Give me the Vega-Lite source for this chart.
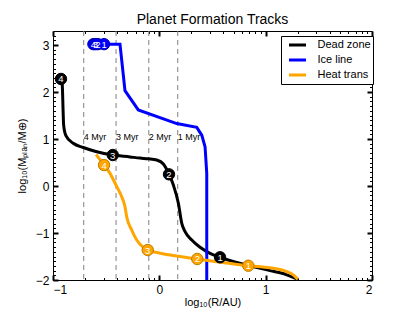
{
  "$schema": "https://vega.github.io/schema/vega-lite/v6.json",
  "width": 319,
  "height": 249,
  "autosize": {"type": "none"},
  "padding": {"left": 53, "top": 31, "right": 43, "bottom": 32},
  "background": "white",
  "title": {"text": "Planet Formation Tracks", "fontSize": 14, "fontWeight": "normal", "font": "Liberation Sans", "color": "black", "offset": 3},
  "config": {
    "font": "Liberation Sans",
    "view": {"stroke": "black", "strokeWidth": 1},
    "axis": {"labelColor": "black", "titleColor": "black", "grid": false, "domain": false, "labelFont": "Liberation Sans", "titleFont": "Liberation Sans"}
  },
  "datasets": {
    "tracks": [
      {"series": "Dead zone", "i": 1, "x": -0.925, "y": 2.28},
      {"series": "Dead zone", "i": 2, "x": -0.913, "y": 2.15},
      {"series": "Dead zone", "i": 3, "x": -0.905, "y": 1.6},
      {"series": "Dead zone", "i": 4, "x": -0.9, "y": 1.3},
      {"series": "Dead zone", "i": 5, "x": -0.88, "y": 1.08},
      {"series": "Dead zone", "i": 6, "x": -0.81, "y": 0.91},
      {"series": "Dead zone", "i": 7, "x": -0.715, "y": 0.82},
      {"series": "Dead zone", "i": 8, "x": -0.589, "y": 0.73},
      {"series": "Dead zone", "i": 9, "x": -0.438, "y": 0.66},
      {"series": "Dead zone", "i": 10, "x": -0.276, "y": 0.62},
      {"series": "Dead zone", "i": 11, "x": -0.182, "y": 0.595},
      {"series": "Dead zone", "i": 12, "x": -0.103, "y": 0.58},
      {"series": "Dead zone", "i": 13, "x": -0.024, "y": 0.553},
      {"series": "Dead zone", "i": 14, "x": 0.038, "y": 0.468},
      {"series": "Dead zone", "i": 15, "x": 0.091, "y": 0.249},
      {"series": "Dead zone", "i": 16, "x": 0.132, "y": 0.021},
      {"series": "Dead zone", "i": 17, "x": 0.179, "y": -0.368},
      {"series": "Dead zone", "i": 18, "x": 0.211, "y": -0.794},
      {"series": "Dead zone", "i": 19, "x": 0.242, "y": -0.972},
      {"series": "Dead zone", "i": 20, "x": 0.305, "y": -1.149},
      {"series": "Dead zone", "i": 21, "x": 0.383, "y": -1.304},
      {"series": "Dead zone", "i": 22, "x": 0.477, "y": -1.432},
      {"series": "Dead zone", "i": 23, "x": 0.571, "y": -1.517},
      {"series": "Dead zone", "i": 24, "x": 0.822, "y": -1.68},
      {"series": "Dead zone", "i": 25, "x": 1.041, "y": -1.8},
      {"series": "Dead zone", "i": 26, "x": 1.198, "y": -1.89},
      {"series": "Dead zone", "i": 27, "x": 1.302, "y": -1.985},
      {"series": "Ice line", "i": 1, "x": -0.62, "y": 3.02},
      {"series": "Ice line", "i": 2, "x": -0.37, "y": 3.02},
      {"series": "Ice line", "i": 3, "x": -0.323, "y": 2.03},
      {"series": "Ice line", "i": 4, "x": -0.198, "y": 1.62},
      {"series": "Ice line", "i": 5, "x": 0.164, "y": 1.33},
      {"series": "Ice line", "i": 6, "x": 0.352, "y": 1.249},
      {"series": "Ice line", "i": 7, "x": 0.399, "y": 1.085},
      {"series": "Ice line", "i": 8, "x": 0.43, "y": 0.836},
      {"series": "Ice line", "i": 9, "x": 0.446, "y": 0.27},
      {"series": "Ice line", "i": 10, "x": 0.446, "y": -2.0},
      {"series": "Heat trans", "i": 1, "x": -0.595, "y": 0.67},
      {"series": "Heat trans", "i": 2, "x": -0.52, "y": 0.447},
      {"series": "Heat trans", "i": 3, "x": -0.464, "y": 0.27},
      {"series": "Heat trans", "i": 4, "x": -0.4, "y": -0.014},
      {"series": "Heat trans", "i": 5, "x": -0.354, "y": -0.227},
      {"series": "Heat trans", "i": 6, "x": -0.323, "y": -0.44},
      {"series": "Heat trans", "i": 7, "x": -0.307, "y": -0.653},
      {"series": "Heat trans", "i": 8, "x": -0.26, "y": -0.936},
      {"series": "Heat trans", "i": 9, "x": -0.213, "y": -1.149},
      {"series": "Heat trans", "i": 10, "x": -0.15, "y": -1.305},
      {"series": "Heat trans", "i": 11, "x": -0.109, "y": -1.362},
      {"series": "Heat trans", "i": 12, "x": 0.007, "y": -1.43},
      {"series": "Heat trans", "i": 13, "x": 0.195, "y": -1.5},
      {"series": "Heat trans", "i": 14, "x": 0.357, "y": -1.553},
      {"series": "Heat trans", "i": 15, "x": 0.54, "y": -1.61},
      {"series": "Heat trans", "i": 16, "x": 0.837, "y": -1.696},
      {"series": "Heat trans", "i": 17, "x": 1.04, "y": -1.74},
      {"series": "Heat trans", "i": 18, "x": 1.198, "y": -1.82},
      {"series": "Heat trans", "i": 19, "x": 1.26, "y": -1.89},
      {"series": "Heat trans", "i": 20, "x": 1.302, "y": -1.985}
    ],
    "markers": [
      {"series": "Dead zone", "n": "4", "x": -0.925, "y": 2.28},
      {"series": "Dead zone", "n": "3", "x": -0.438, "y": 0.66},
      {"series": "Dead zone", "n": "2", "x": 0.091, "y": 0.249},
      {"series": "Dead zone", "n": "1", "x": 0.571, "y": -1.517},
      {"series": "Ice line", "n": "4", "x": -0.62, "y": 3.02},
      {"series": "Ice line", "n": "3", "x": -0.6, "y": 3.02},
      {"series": "Ice line", "n": "2", "x": -0.578, "y": 3.02},
      {"series": "Ice line", "n": "1", "x": -0.52, "y": 3.02},
      {"series": "Heat trans", "n": "4", "x": -0.52, "y": 0.447},
      {"series": "Heat trans", "n": "3", "x": -0.109, "y": -1.362},
      {"series": "Heat trans", "n": "2", "x": 0.357, "y": -1.553},
      {"series": "Heat trans", "n": "1", "x": 0.837, "y": -1.696}
    ],
    "myr": [
      {"label": "4 Myr", "x": -0.711, "y": 1.04},
      {"label": "3 Myr", "x": -0.407, "y": 1.04},
      {"label": "2 Myr", "x": -0.099, "y": 1.04},
      {"label": "1 Myr", "x": 0.173, "y": 1.04}
    ]
  },
  "resolve": {"axis": {"x": "independent", "y": "independent"}},
  "layer": [
    {
      "data": {"name": "myr"},
      "mark": {"type": "rule", "color": "#808080", "strokeDash": [5, 4], "strokeWidth": 1},
      "encoding": {
        "x": {"field": "x", "type": "quantitative", "scale": {"domain": [-1, 2], "nice": false, "zero": false},
          "axis": {"orient": "bottom", "values": [-1, 0, 1, 2], "ticks": false, "labelPadding": 4, "labelFontSize": 12, "title": "log₁₀(R/AU)", "titleFontSize": 11, "titleFontWeight": "normal", "titlePadding": 1, "labelOverlap": false}}
      }
    },
    {
      "data": {"name": "myr"},
      "mark": {"type": "text", "fontSize": 9, "align": "left", "baseline": "middle", "dx": 0, "color": "black"},
      "encoding": {
        "x": {"field": "x", "type": "quantitative", "scale": {"domain": [-1, 2], "nice": false, "zero": false},
          "axis": {"orient": "bottom", "labels": false, "title": null, "ticks": true, "tickColor": "black",
            "values": [-1, -0.699, -0.5229, -0.3979, -0.301, -0.2218, -0.1549, -0.0969, -0.0458, 0, 0.301, 0.4771, 0.6021, 0.699, 0.7782, 0.8451, 0.9031, 0.9542, 1, 1.301, 1.4771, 1.6021, 1.699, 1.7782, 1.8451, 1.9031, 1.9542, 2],
            "tickSize": {"condition": {"test": "abs(datum.value - round(datum.value)) < 0.001", "value": -5}, "value": -2.5},
            "tickWidth": {"condition": {"test": "abs(datum.value - round(datum.value)) < 0.001", "value": 2}, "value": 1}}},
        "y": {"field": "y", "type": "quantitative", "scale": {"domain": [-2, 3.3], "nice": false, "zero": false}, "axis": null},
        "text": {"field": "label"}
      }
    },
    {
      "data": {"name": "tracks"},
      "transform": [{"filter": "datum.series === 'Dead zone'"}],
      "mark": {"type": "line", "strokeWidth": 3, "interpolate": "monotone"},
      "encoding": {
        "x": {"field": "x", "type": "quantitative", "scale": {"domain": [-1, 2], "nice": false, "zero": false},
          "axis": {"orient": "top", "labels": false, "title": null, "ticks": true, "tickColor": "black",
            "values": [-1, -0.699, -0.5229, -0.3979, -0.301, -0.2218, -0.1549, -0.0969, -0.0458, 0, 0.301, 0.4771, 0.6021, 0.699, 0.7782, 0.8451, 0.9031, 0.9542, 1, 1.301, 1.4771, 1.6021, 1.699, 1.7782, 1.8451, 1.9031, 1.9542, 2],
            "tickSize": {"condition": {"test": "abs(datum.value - round(datum.value)) < 0.001", "value": -5}, "value": -2.5},
            "tickWidth": {"condition": {"test": "abs(datum.value - round(datum.value)) < 0.001", "value": 2}, "value": 1}}},
        "y": {"field": "y", "type": "quantitative", "scale": {"domain": [-2, 3.3], "nice": false, "zero": false},
          "axis": {"orient": "left", "values": [-2, -1, 0, 1, 2, 3], "ticks": false, "labelPadding": 4, "labelFontSize": 12, "title": "log₁₀(Mₚₗₐₙ/M⊕)", "titleFontSize": 11, "titleFontWeight": "normal", "titlePadding": 8, "labelOverlap": false}},
        "color": {"field": "series", "type": "nominal",
          "scale": {"domain": ["Dead zone", "Ice line", "Heat trans"], "range": ["#000000", "#0000ff", "#ffa500"]},
          "legend": {"orient": "none", "legendX": 228, "legendY": 5, "title": null, "strokeColor": "black", "fillColor": "white", "padding": 1.5, "cornerRadius": 0,
            "symbolType": "stroke", "symbolStrokeWidth": 3, "symbolSize": 289, "symbolOffset": 5, "clipHeight": 15, "rowPadding": 0, "labelOffset": 10, "labelFontSize": 11, "labelColor": "black", "labelFont": "Liberation Sans"}},
        "order": {"field": "i", "type": "quantitative"}
      }
    },
    {
      "data": {"name": "tracks"},
      "transform": [{"filter": "datum.series === 'Ice line'"}],
      "mark": {"type": "line", "strokeWidth": 3, "interpolate": "linear"},
      "encoding": {
        "x": {"field": "x", "type": "quantitative", "scale": {"domain": [-1, 2], "nice": false, "zero": false}, "axis": null},
        "y": {"field": "y", "type": "quantitative", "scale": {"domain": [-2, 3.3], "nice": false, "zero": false},
          "axis": {"orient": "right", "labels": false, "title": null, "ticks": true, "tickColor": "black",
            "values": [-2, -1.9, -1.8, -1.7, -1.6, -1.5, -1.4, -1.3, -1.2, -1.1, -1, -0.9, -0.8, -0.7, -0.6, -0.5, -0.4, -0.3, -0.2, -0.1, 0, 0.1, 0.2, 0.3, 0.4, 0.5, 0.6, 0.7, 0.8, 0.9, 1, 1.1, 1.2, 1.3, 1.4, 1.5, 1.6, 1.7, 1.8, 1.9, 2, 2.1, 2.2, 2.3, 2.4, 2.5, 2.6, 2.7, 2.8, 2.9, 3, 3.1, 3.2],
            "tickSize": {"condition": {"test": "abs(datum.value - round(datum.value)) < 0.001", "value": -5}, "value": -2.5},
            "tickWidth": {"condition": {"test": "abs(datum.value - round(datum.value)) < 0.001", "value": 2}, "value": 1}}},
        "color": {"field": "series", "type": "nominal", "scale": {"domain": ["Dead zone", "Ice line", "Heat trans"], "range": ["#000000", "#0000ff", "#ffa500"]}},
        "order": {"field": "i", "type": "quantitative"}
      }
    },
    {
      "data": {"name": "tracks"},
      "transform": [{"filter": "datum.series === 'Heat trans'"}],
      "mark": {"type": "line", "strokeWidth": 3, "interpolate": "monotone"},
      "encoding": {
        "x": {"field": "x", "type": "quantitative", "scale": {"domain": [-1, 2], "nice": false, "zero": false}, "axis": null},
        "y": {"field": "y", "type": "quantitative", "scale": {"domain": [-2, 3.3], "nice": false, "zero": false},
          "axis": {"orient": "left", "labels": false, "title": null, "ticks": true, "tickColor": "black",
            "values": [-2, -1.9, -1.8, -1.7, -1.6, -1.5, -1.4, -1.3, -1.2, -1.1, -1, -0.9, -0.8, -0.7, -0.6, -0.5, -0.4, -0.3, -0.2, -0.1, 0, 0.1, 0.2, 0.3, 0.4, 0.5, 0.6, 0.7, 0.8, 0.9, 1, 1.1, 1.2, 1.3, 1.4, 1.5, 1.6, 1.7, 1.8, 1.9, 2, 2.1, 2.2, 2.3, 2.4, 2.5, 2.6, 2.7, 2.8, 2.9, 3, 3.1, 3.2],
            "tickSize": {"condition": {"test": "abs(datum.value - round(datum.value)) < 0.001", "value": -5}, "value": -2.5},
            "tickWidth": {"condition": {"test": "abs(datum.value - round(datum.value)) < 0.001", "value": 2}, "value": 1}}},
        "color": {"field": "series", "type": "nominal", "scale": {"domain": ["Dead zone", "Ice line", "Heat trans"], "range": ["#000000", "#0000ff", "#ffa500"]}},
        "order": {"field": "i", "type": "quantitative"}
      }
    },
    {
      "data": {"name": "markers"},
      "mark": {"type": "circle", "size": 130, "opacity": 1, "strokeWidth": 1},
      "encoding": {
        "x": {"field": "x", "type": "quantitative", "scale": {"domain": [-1, 2], "nice": false, "zero": false}, "axis": null},
        "y": {"field": "y", "type": "quantitative", "scale": {"domain": [-2, 3.3], "nice": false, "zero": false}, "axis": null},
        "fill": {"field": "series", "type": "nominal", "scale": {"domain": ["Dead zone", "Ice line", "Heat trans"], "range": ["#000000", "#0000ff", "#ffa500"]}, "legend": null},
        "stroke": {"field": "series", "type": "nominal", "scale": {"domain": ["Dead zone", "Ice line", "Heat trans"], "range": ["#000000", "#0000b0", "#c07c00"]}, "legend": null}
      }
    },
    {
      "data": {"name": "markers"},
      "mark": {"type": "text", "fontSize": 9.5, "color": "white", "align": "center", "baseline": "middle", "dy": 0.5},
      "encoding": {
        "x": {"field": "x", "type": "quantitative", "scale": {"domain": [-1, 2], "nice": false, "zero": false}, "axis": null},
        "y": {"field": "y", "type": "quantitative", "scale": {"domain": [-2, 3.3], "nice": false, "zero": false}, "axis": null},
        "text": {"field": "n"}
      }
    }
  ]
}
